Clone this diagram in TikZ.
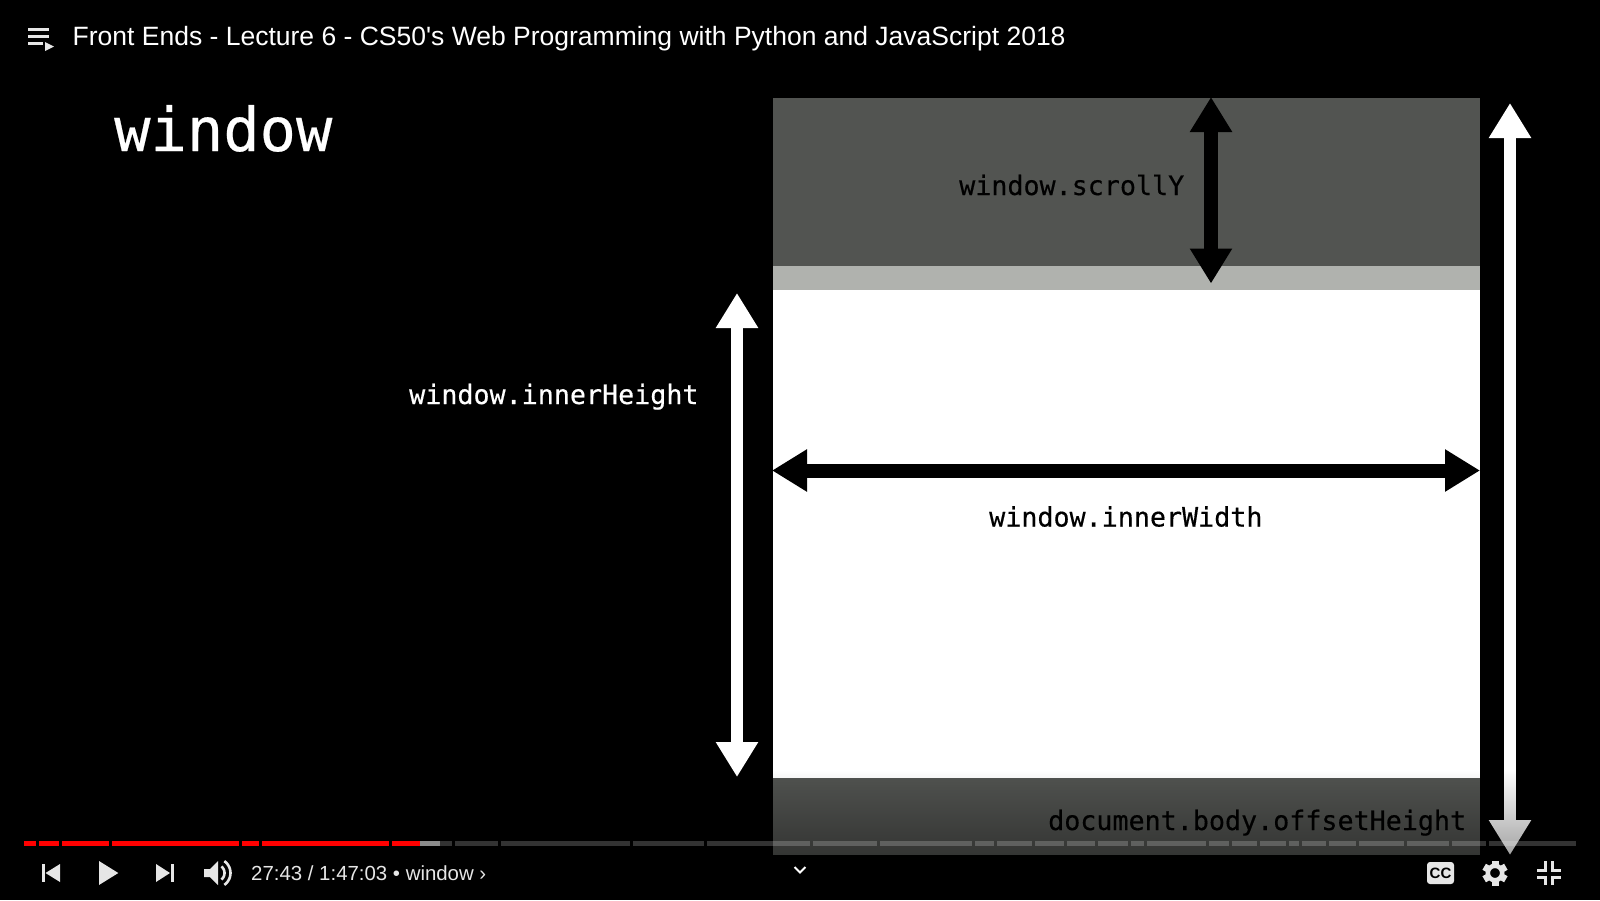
\documentclass[tikz,border=0pt]{standalone}
\usepackage{fontspec}
\newfontfamily\uifont{Liberation Sans}
\newfontfamily\slidefont[FakeBold=0.4]{DejaVu Sans Mono}
\usetikzlibrary{arrows.meta,fadings}
\definecolor{pagedark}{HTML}{525451}
\definecolor{pagelight}{HTML}{B0B2AE}
\definecolor{iconcol}{HTML}{E6E6E6}
\tikzfading[name=fadebottom, top color=transparent!100, bottom color=transparent!45]
\tikzset{
	bigarrow/.style={line width=#1, {Triangle[width=40pt,length=35pt]}-{Triangle[width=40pt,length=35pt]}},
	slidetext/.style={anchor=base west, inner sep=0pt, font=\slidefont\fontsize{26.7}{26.7}\selectfont},
	uitext/.style={anchor=base west, inner sep=0pt, text=iconcol},
}

\begin{document}
\begin{tikzpicture}[x=1pt, y=-1pt]
	\fill[color=black] (0,0) rectangle (1600,900);
	\useasboundingbox (0,0) rectangle (1600,900);
	% the page
	\fill[color=pagedark] (772.5,97.5) rectangle (1480,266);
	\fill[color=pagelight] (772.5,266) rectangle (1480,290);
	\fill[color=white] (772.5,290) rectangle (1480,777.5);
	\fill[color=pagedark] (772.5,777.5) rectangle (1480,855);
	% slide text
	\node[slidetext, text=white, font=\slidefont\fontsize{60.4}{60.4}\selectfont] (slidetitle) at (114,151) {window};
	\node[slidetext, text=black] (scrolllabel) at (959,195) {window.scrollY};
	\node[slidetext, text=white] (heightlabel) at (409,404) {window.innerHeight};
	\node[slidetext, text=black] (widthlabel) at (989,526.5) {window.innerWidth};
	\node[slidetext, text=black] (offsetlabel) at (1048,830) {document.body.offsetHeight};
	% arrows
	\coordinate (scrolltop) at (1211,97);
	\coordinate (scrollbot) at (1211,283.5);
	\coordinate (heighttop) at (737,293);
	\coordinate (heightbot) at (737,777);
	\coordinate (widthleft) at (772,470.5);
	\coordinate (widthright) at (1480,470.5);
	\coordinate (offsettop) at (1510,103);
	\coordinate (offsetbot) at (1510,855);
	\draw[bigarrow=14pt, color=black] (scrolltop) -- (scrollbot);
	\draw[bigarrow=12pt, color=white] (heighttop) -- (heightbot);
	\draw[bigarrow=14pt, color=black] (widthleft) -- (widthright);
	\draw[bigarrow=12pt, color=white] (offsettop) -- (offsetbot);
	% player overlay
	\fill[color=black, path fading=fadebottom] (0,770) rectangle (1600,900);
	\node[uitext, text=white, font=\uifont\fontsize{26.5}{26.5}\selectfont] (videotitle) at (72.5,45) {Front Ends - Lecture 6 - CS50's Web Programming with Python and JavaScript 2018};
	\foreach \y in {28,35} {
		\fill[color=iconcol] (28,\y) rectangle (49,\y+3);
	}
	\fill[color=iconcol] (28,42) rectangle (43,45);
	\fill[color=iconcol] (45,42) -- (45,51) -- (54,46.5) -- cycle;
	% progress bar
	\foreach \a/\b in {24/36,39/59,62/109,112/239,242/259,262/389,392/420} {
		\fill[color=red] (\a,841) rectangle (\b,846);
	}
	\fill[color=white!55!black] (420,841) rectangle (440,846);
	\foreach \a/\b in {440/452,455/498,501/630,633/704,707/810,813/877,880/972,975/994,997/1032,1035/1064,1067/1095,1098/1128,1131/1144,1147/1206,1209/1229,1232/1257,1260/1286,1289/1299,1302/1326,1329/1356,1359/1404,1407/1449,1452/1486,1489/1576} {
		\fill[color=white, opacity=0.2] (\a,841) rectangle (\b,846);
	}
	% controls
	\fill[color=iconcol] (42,864) rectangle (45,882);
	\fill[color=iconcol] (60,864) -- (60,882) -- (45.5,873) -- cycle;
	\fill[color=iconcol] (99,861) -- (99,885) -- (118.3,873) -- cycle;
	\fill[color=iconcol] (156,864) -- (156,882) -- (170,873) -- cycle;
	\fill[color=iconcol] (171,864) rectangle (174,882);
	\fill[color=iconcol] (204,869) -- (210,869) -- (218,861) -- (218,885) -- (210,877) -- (204,877) -- cycle;
	\draw[color=iconcol, line width=2.6pt] plot[domain=-50:50, samples=15] ({216+8.5*cos(\x)},{873+8.5*sin(\x)});
	\draw[color=iconcol, line width=2.6pt] plot[domain=-55:55, samples=15] ({216+14.5*cos(\x)},{873+14.5*sin(\x)});
	\node[uitext, font=\uifont\fontsize{20.4}{20.4}\selectfont] (timetext) at (251,880) {27:43 / 1:47:03 • window ›};
	\draw[color=white, line width=2pt] (794.5,867) -- (800,872.5) -- (805.5,867);
	\fill[color=iconcol, rounded corners=3pt] (1427,862) rectangle (1454,884);
	\node[inner sep=0pt, text=black, font=\uifont\bfseries\fontsize{15}{15}\selectfont] (cclabel) at (1440.5,873) {CC};
	\foreach \t in {0,60,...,300} {
		\fill[color=iconcol, rotate around={\t:(1495,873)}] (1491.5,860.5) rectangle (1498.5,866);
	}
	\draw[color=iconcol, line width=4.5pt] (1495,873) circle[radius=7.2pt];
	\draw[color=iconcol, line width=3pt] (1545.5,861) -- (1545.5,870) -- (1537,870);
	\draw[color=iconcol, line width=3pt] (1552.5,861) -- (1552.5,870) -- (1561,870);
	\draw[color=iconcol, line width=3pt] (1545.5,885) -- (1545.5,877) -- (1537,877);
	\draw[color=iconcol, line width=3pt] (1552.5,885) -- (1552.5,877) -- (1561,877);
\end{tikzpicture}
\end{document}
